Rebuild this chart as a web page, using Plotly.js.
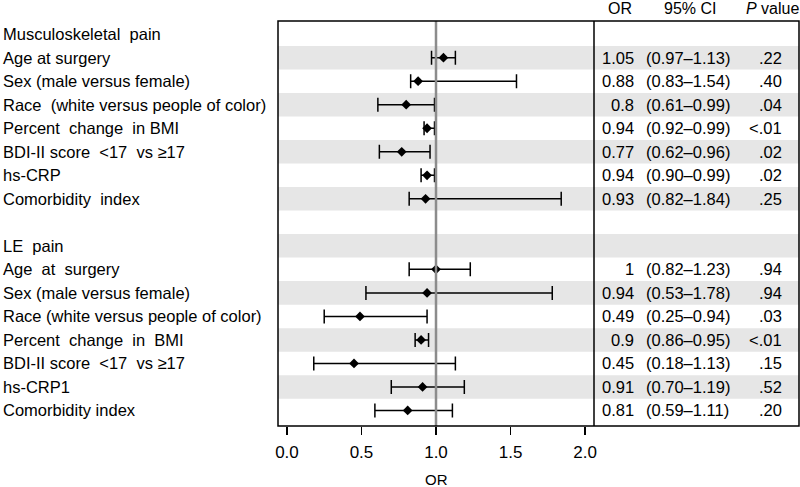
<!DOCTYPE html>
<html><head><meta charset="utf-8">
<script src="https://cdn.plot.ly/plotly-3.0.1.min.js"></script>
<style>body{margin:0;padding:0;background:#fff}#chart{width:800px;height:487px}</style>
</head><body><div id="chart"></div>
<script>
const labels = ["Musculoskeletal  pain","Age at surgery","Sex (male versus female)","Race  (white versus people of color)","Percent  change  in BMI","BDI-II score  <17  vs ≥17","hs-CRP","Comorbidity  index","","LE  pain","Age  at  surgery","Sex (male versus female)","Race (white versus people of color)","Percent  change  in  BMI","BDI-II score  <17  vs ≥17","hs-CRP1","Comorbidity index"];
const orVals = [null,1.05,0.88,0.8,0.94,0.77,0.94,0.93,null,null,1,0.94,0.49,0.9,0.45,0.91,0.81];
const ciLow  = [null,0.97,0.83,0.61,0.92,0.62,0.90,0.82,null,null,0.82,0.53,0.25,0.86,0.18,0.70,0.59];
const ciHigh = [null,1.13,1.54,0.99,0.99,0.96,0.99,1.84,null,null,1.23,1.78,0.94,0.95,1.13,1.19,1.11];
const orText = ["","1.05","0.88","0.8","0.94","0.77","0.94","0.93","","","1","0.94","0.49","0.9","0.45","0.91","0.81"];
const pText  = ["",".22",".40",".04","<.01",".02",".02",".25","","",".94",".94",".03","<.01",".15",".52",".20"];
const tickVals = [0,0.5,1,1.5,2];
const tickText = ["0.0","0.5","1.0","1.5","2.0"];
const headers = ["OR","95% CI","<i>P</i> value"];
const xTitle = "OR";

const FONT = "Liberation Sans, Arial, sans-serif";
const FS = 16.5;
const W = 800, L = 278, R = 1;
const pw = W - L - R;
const px = v => (v - L) / pw;  // pixel to paper x
const divider = px(594);

const rows = labels.map((_, i) => i);
const xs=[], ys=[], ep=[], em=[];
rows.forEach(i => { if (orVals[i] !== null) { xs.push(orVals[i]); ys.push(i); ep.push(ciHigh[i]-orVals[i]); em.push(orVals[i]-ciLow[i]); } });

const trace = {
  type:'scatter', mode:'markers', x: xs, y: ys,
  marker:{symbol:'diamond', size:7.5, color:'black'},
  error_x:{type:'data', symmetric:false, array: ep, arrayminus: em, color:'black', thickness:1.5, width:7},
  hoverinfo:'skip', showlegend:false, cliponaxis:false
};

const shapes = [];
rows.forEach(i => { if (i % 2 === 1) shapes.push({type:'rect', xref:'paper', yref:'y', x0:0, x1:1, y0:i-0.5, y1:i+0.5, fillcolor:'#e6e6e6', line:{width:0}, layer:'below'}); });
shapes.push({type:'line', xref:'x', yref:'paper', x0:1, x1:1, y0:0, y1:1, line:{color:'#8c8c8c', width:2.5}, layer:'above'});
shapes.push({type:'rect', xref:'paper', yref:'paper', x0:0, x1:1, y0:0, y1:1, line:{color:'black', width:1.5}, layer:'above'});
shapes.push({type:'line', xref:'paper', yref:'paper', x0:divider, x1:divider, y0:0, y1:1, line:{color:'black', width:1.5}, layer:'above'});

const ann = [];
const tf = {family:FONT, size:FS, color:'black'};
rows.forEach(i => {
  if (labels[i]) ann.push({xref:'paper', yref:'y', x:px(1), y:i, xanchor:'left', yanchor:'middle', text:labels[i], showarrow:false, font:tf});
  if (orVals[i] !== null) {
    ann.push({xref:'paper', yref:'y', x:px(635.5), y:i, xanchor:'right', yanchor:'middle', text:orText[i], showarrow:false, font:tf});
    ann.push({xref:'paper', yref:'y', x:px(644), y:i, xanchor:'left', yanchor:'middle', text:'('+ciLow[i].toFixed(2)+'–'+ciHigh[i].toFixed(2)+')', showarrow:false, font:tf});
    ann.push({xref:'paper', yref:'y', x:px(783.5), y:i, xanchor:'right', yanchor:'middle', text:pText[i], showarrow:false, font:tf});
  }
});
const hy = 1 + 12/404.7;
const hf = {family:FONT,size:16,color:'black'};
ann.push({xref:'paper', yref:'paper', x:px(620), y:hy, xanchor:'center', yanchor:'middle', text:headers[0], showarrow:false, font:hf});
ann.push({xref:'paper', yref:'paper', x:px(689.5), y:hy, xanchor:'center', yanchor:'middle', text:headers[1], showarrow:false, font:hf});
ann.push({xref:'paper', yref:'paper', x:px(772), y:hy, xanchor:'center', yanchor:'middle', text:headers[2], showarrow:false, font:hf});
// x-axis title, placed under the tick labels
ann.push({xref:'x', yref:'paper', x:1, y:0, xanchor:'center', yanchor:'top', yshift:-43.5, borderpad:0, text:xTitle, showarrow:false, font:{family:FONT,size:15,color:'black'}});

const layout = {
  width:800, height:487,
  margin:{l:L, r:R, t:21, b:61.3, pad:0},
  paper_bgcolor:'white', plot_bgcolor:'rgba(0,0,0,0)',
  font:{family:FONT, size:FS, color:'black'},
  xaxis:{domain:[0, divider], range:[-0.06, 2.06], tickvals:tickVals, ticktext:tickText, ticks:'outside', ticklen:8, tickwidth:1.5, tickcolor:'black',
         ticklabelstandoff:3,
         showgrid:false, zeroline:false, showline:false, tickfont:{family:FONT,size:17,color:'black'}},
  yaxis:{range:[16.66, -0.56], showgrid:false, zeroline:false, showline:false, showticklabels:false, ticks:''},
  shapes: shapes, annotations: ann
};
Plotly.newPlot('chart', [trace], layout, {displayModeBar:false, staticPlot:true});
</script></body></html>
